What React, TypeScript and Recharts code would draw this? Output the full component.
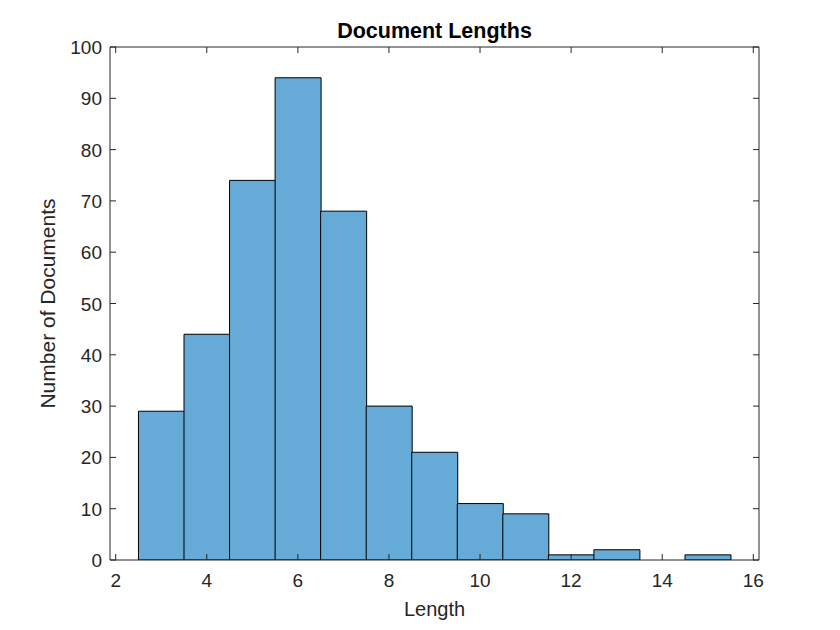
import { Bar, BarChart, ReferenceLine, XAxis, YAxis } from 'recharts'

const binCenters = [3, 4, 5, 6, 7, 8, 9, 10, 11, 12, 13, 14, 15]
const docCounts = [29, 44, 74, 94, 68, 30, 21, 11, 9, 1, 2, 0, 1]
const xTicks = [2, 4, 6, 8, 10, 12, 14, 16]
const yTicks = [0, 10, 20, 30, 40, 50, 60, 70, 80, 90, 100]
const xDomain = [1.875, 16.125]
const yDomain = [0, 100]

const data = binCenters.map((center, i) => ({ center, count: docCounts[i] }))

const W = 840
const H = 630
const MARGIN = { top: 47, right: 81, left: 0, bottom: 0 }
const PLOT_TOP = MARGIN.top
const PLOT_RIGHT = W - MARGIN.right

const FONT = '"Liberation Sans", Arial, Helvetica, sans-serif'
const INK = '#262626'
const TICK_LEN = 6

// bottom axis tick: inward tick on bottom + matching one on the top edge
function BottomTick({ x, y, payload }: any) {
  return (
    <g>
      <line x1={x} y1={y} x2={x} y2={y - TICK_LEN} stroke={INK} />
      <line x1={x} y1={PLOT_TOP} x2={x} y2={PLOT_TOP + TICK_LEN} stroke={INK} />
      <text x={x} y={y + 27} textAnchor="middle" fill={INK} fontSize={19} fontFamily={FONT}>
        {payload.value}
      </text>
    </g>
  )
}

// left axis tick: inward tick on left + matching one on the right edge
function LeftTick({ x, y, payload }: any) {
  return (
    <g>
      <line x1={x} y1={y} x2={x + TICK_LEN} y2={y} stroke={INK} />
      <line x1={PLOT_RIGHT} y1={y} x2={PLOT_RIGHT - TICK_LEN} y2={y} stroke={INK} />
      <text x={x - 8} y={y + 7} textAnchor="end" fill={INK} fontSize={19} fontFamily={FONT}>
        {payload.value}
      </text>
    </g>
  )
}

function YLabel({ viewBox }: any) {
  const cx = viewBox.x + 47
  const cy = viewBox.y + viewBox.height / 2
  return (
    <text
      x={cx}
      y={cy}
      transform={`rotate(-90 ${cx} ${cy})`}
      textAnchor="middle"
      dominantBaseline="central"
      fill={INK}
      fontSize={21}
      fontFamily={FONT}
    >
      Number of Documents
    </text>
  )
}

export default function App() {
  return (
    <div style={{ position: 'absolute', left: 0, top: 0, width: W, height: H, background: '#fff' }}>
      <div
        style={{
          position: 'absolute',
          left: 110,
          width: PLOT_RIGHT - 110,
          top: 18,
          textAlign: 'center',
          fontFamily: FONT,
          fontWeight: 'bold',
          fontSize: 21.5,
          color: '#000',
          lineHeight: '26px',
        }}
      >
        Document Lengths
      </div>
      <BarChart width={W} height={H} data={data} margin={MARGIN} barCategoryGap={0} barGap={0}>
        <XAxis
          dataKey="center"
          type="number"
          domain={xDomain}
          ticks={xTicks}
          allowDataOverflow
          height={70}
          tickSize={0}
          tickMargin={0}
          tick={<BottomTick />}
          axisLine={{ stroke: INK }}
          tickLine={false}
          label={{ value: 'Length', position: 'insideBottom', offset: 14, fill: INK, fontSize: 20, fontFamily: FONT }}
        />
        <YAxis
          type="number"
          domain={yDomain}
          ticks={yTicks}
          allowDataOverflow
          width={110}
          tickSize={0}
          tickMargin={0}
          tick={<LeftTick />}
          axisLine={{ stroke: INK }}
          tickLine={false}
          label={{ content: <YLabel /> }}
        />
        <Bar dataKey="count" fill="#66aad7" stroke="#000" strokeWidth={1} isAnimationActive={false} />
        <ReferenceLine y={yDomain[1]} stroke={INK} ifOverflow="extendDomain" />
        <ReferenceLine x={xDomain[1]} stroke={INK} ifOverflow="extendDomain" />
      </BarChart>
    </div>
  )
}
